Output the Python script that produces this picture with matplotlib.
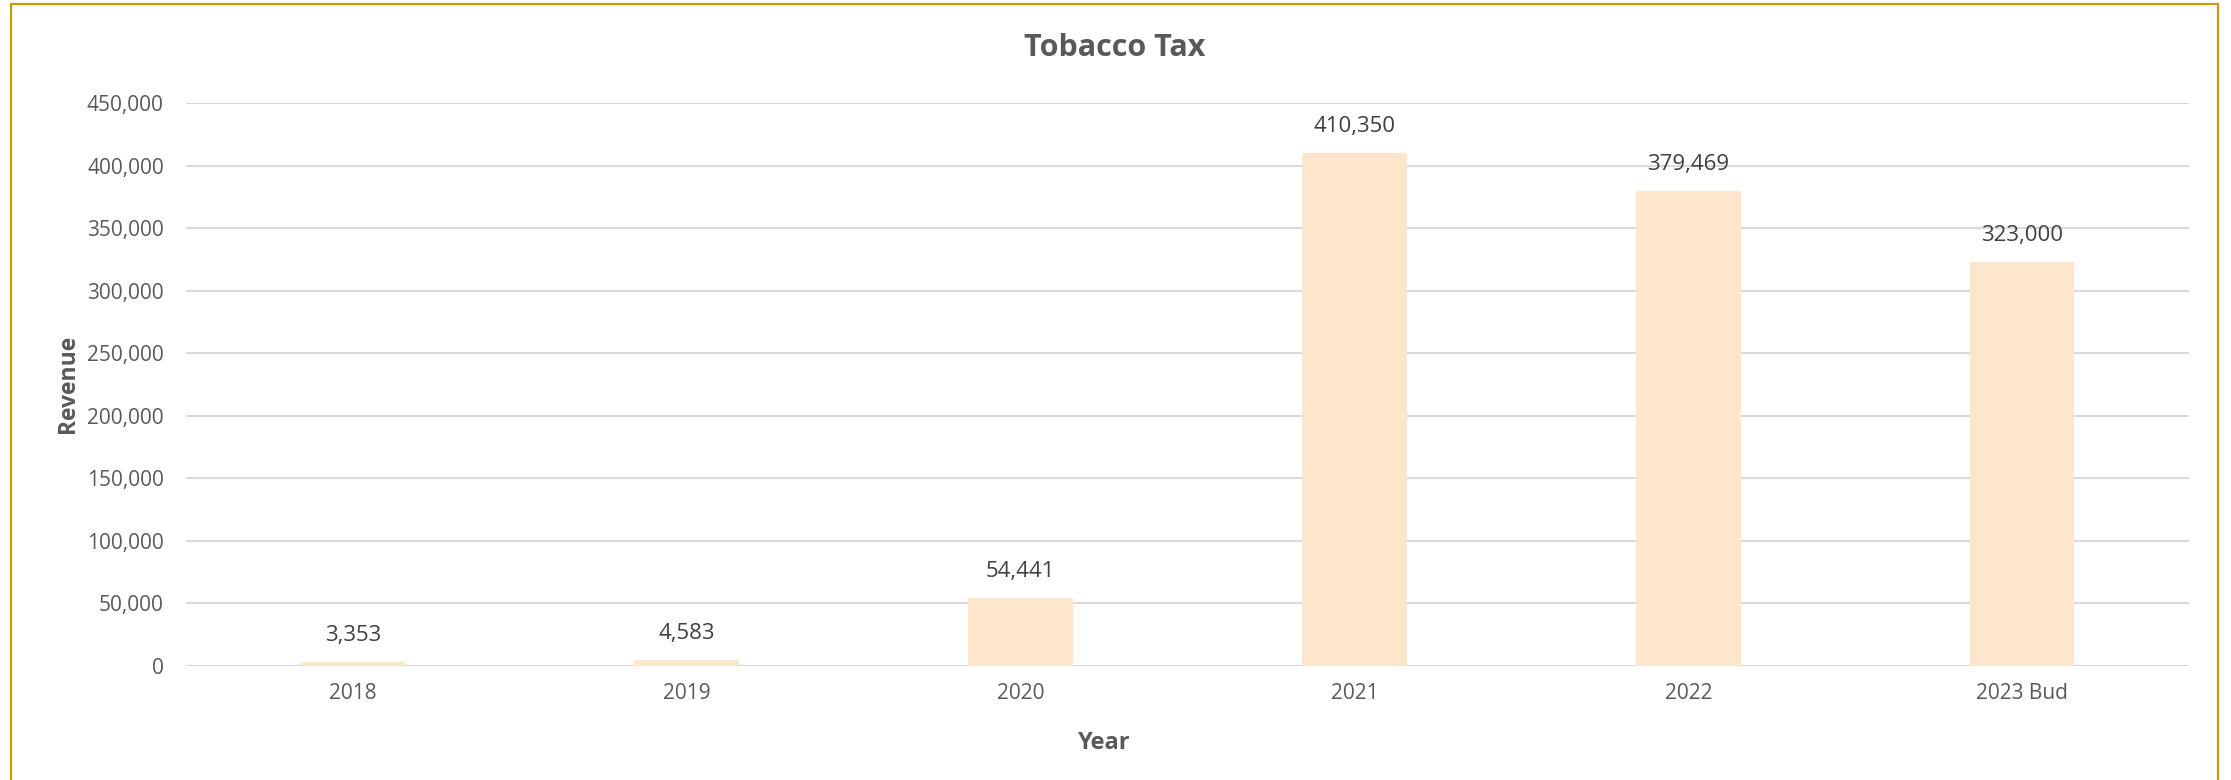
import matplotlib.pyplot as plt
import matplotlib.patches as mpatches
from matplotlib.ticker import FuncFormatter

# data
years = ['2018', '2019', '2020', '2021', '2022', '2023 Bud']
revenue = [3353, 4583, 54441, 410350, 379469, 323000]

W, H = 2231, 780
plt.rcParams['font.family'] = ['Open Sans', 'DejaVu Sans']

fig = plt.figure(figsize=(W / 100, H / 100), dpi=100)
ax = fig.add_axes([186 / W, 1 - 666 / H, (2189 - 186) / W, (666 - 103) / H])

x = range(len(years))
bars = ax.bar(x, revenue, width=0.314, color='#FEE6CC', zorder=2)

for i, v in enumerate(revenue):
    ax.annotate(f'{v:,}', (i, v), xytext=(0, 19), textcoords='offset points',
                ha='center', va='center', fontsize=16, color='#404040')

ax.set_xlim(-0.5, len(years) - 0.5)
ax.set_ylim(0, 450000)
ax.set_yticks(range(0, 450001, 50000))
ax.yaxis.set_major_formatter(FuncFormatter(lambda v, p: f'{int(v):,}'))
ax.set_xticks(list(x))
ax.set_xticklabels(years)

ax.tick_params(axis='both', length=0, labelsize=15, labelcolor='#595959')
ax.tick_params(axis='y', pad=16)
ax.tick_params(axis='x', pad=12)

ax.grid(axis='y', color='#D9D9D9', linewidth=1.5, zorder=0)
ax.set_axisbelow(True)
for s in ax.spines.values():
    s.set_visible(False)

fig.text(1115 / W, 1 - 48 / H, 'Tobacco Tax', ha='center', va='center',
         fontsize=22, fontweight='bold', color='#595959')
fig.text(1104 / W, 1 - 743 / H, 'Year', ha='center', va='center',
         fontsize=17, fontweight='bold', color='#595959')
fig.text(68 / W, 1 - 384 / H, 'Revenue', ha='center', va='center', rotation=90,
         fontsize=16.5, fontweight='bold', color='#595959')

# gold frame around the chart (bottom edge falls outside the image)
frame = mpatches.Rectangle((11 / W, -0.1), (2218 - 11) / W, 1.1 - 4 / H,
                           transform=fig.transFigure, fill=False,
                           edgecolor='#C99A06', linewidth=1.6, clip_on=False)
fig.patches.append(frame)

fig.savefig('out.png', dpi=100)
